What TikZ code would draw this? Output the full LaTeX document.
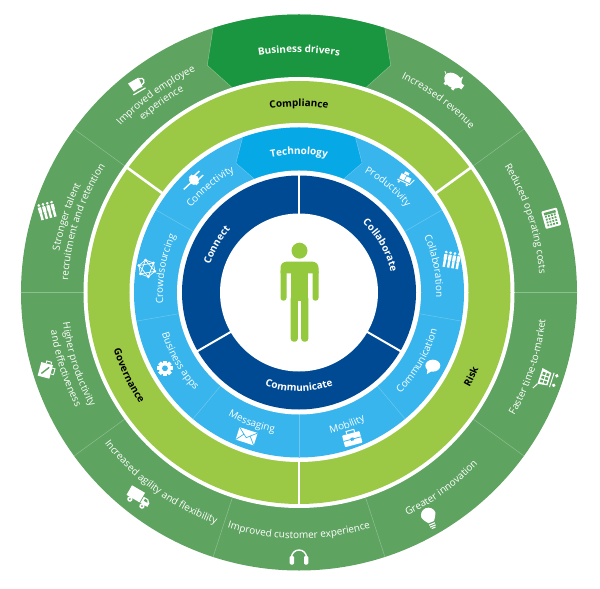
\documentclass[tikz,border=0pt]{standalone}
\usepackage{fontspec}
\setmainfont{Open Sans}
\usetikzlibrary{decorations.text}
\definecolor{outerg}{HTML}{5FA361}
\definecolor{driverg}{HTML}{19963F}
\definecolor{lineg}{HTML}{8CC08F}
\definecolor{limeg}{HTML}{9BC946}
\definecolor{skyb}{HTML}{38B5EC}
\definecolor{techb}{HTML}{07A8E6}
\definecolor{lineb}{HTML}{6CC8F0}
\definecolor{navyb}{HTML}{004A94}
\definecolor{persong}{HTML}{94C83D}
\newcommand{\outerfont}{\fontsize{10}{11}\selectfont}
\newcommand{\innerfont}{\fontsize{10}{11}\selectfont}
\newcommand{\boldfont}{\bfseries\fontsize{10}{11}\selectfont}
% #1 colour, #2 format, #3 radius, #4 centre angle, #5 text: reads clockwise (tops outward)
\newcommand{\cwtext}[5]{\path[decorate,decoration={text along path,text align=center,
  text={|\color{#1}#2|#5}}] (#4+80:#3) arc[start angle=#4+80,end angle=#4-80,radius=#3];}
% reads counter-clockwise (tops towards centre)
\newcommand{\ccwtext}[5]{\path[decorate,decoration={text along path,text align=center,
  text={|\color{#1}#2|#5}}] (#4-80:#3) arc[start angle=#4-80,end angle=#4+80,radius=#3];}
\tikzset{
 thinline/.style={line width=0.5pt},
 pics/mugicon/.style={code={
   \fill[white] (-7,6)--(5,6)--(4,-4) to[bend right=10] (-6,-4)--cycle;
   \draw[white,line width=1.3pt] (5,4.5) .. controls (10,4.5) and (9.5,-2) .. (4.2,-2);
   \draw[white,line width=1.2pt] (-8,-6.5)--(6,-6.5);}},
 pics/peopleicon/.style={code={
   \foreach \xx in {-6.6,-2.2,2.2,6.6}{
     \fill[white] (\xx,7) circle[radius=1.5];
     \fill[white,rounded corners=0.5pt] (\xx-1.6,5)rectangle(\xx+1.6,-1);
     \draw[white,line width=1.1pt] (\xx-.7,-1)--(\xx-.7,-8) (\xx+.7,-1)--(\xx+.7,-8);}}},
 pics/pigicon/.style={code={
   \fill[white] (0,0) ellipse[x radius=9.5,y radius=7];
   \fill[white] (8,-2.5) rectangle (12,2.5);
   \fill[white] (3,4)--(6,9)--(7.5,3)--cycle;
   \fill[white] (-6,-8) rectangle (-3,-3) (3,-8) rectangle (6,-3);
   \draw[white,line width=.8pt] (-9,1)--(-12,3);}},
 pics/calcicon/.style={code={
   \fill[white,rounded corners=1pt] (-8,-9) rectangle (8,9);
   \fill[outerg] (-6,4.5) rectangle (6,7);
   \foreach \xx in {-6,-3,0,3}\foreach \yy in {-7,-4,-1,2}{
     \fill[outerg] (\xx+.4,\yy) rectangle (\xx+2.2,\yy+1.8);}}},
 pics/caseicon/.style={code={
   \fill[white] (-7,-8) rectangle (5,6);
   \draw[outerg,line width=1.4pt] (-4,-5)--(2,3);
   \draw[white,line width=.9pt] (-2,6) -- (-2,8.5) -- (3,8.5) -- (3,6) (5,-3)--(8,-3)--(8,3)--(5,3);}},
 pics/truckicon/.style={code={
   \fill[white] (-12,-4) -- (-12,7) -- (3,7) -- (3,-4) -- cycle;
   \fill[white] (4,-4) -- (4,3) -- (9,3) -- (12,0) -- (12,-4) -- cycle;
   \fill[outerg] (6,-.5) -- (6,1.8) -- (8.6,1.8) -- (10,-.5) -- cycle;
   \fill[white] (-7,-6) circle[radius=2.7] (7,-6) circle[radius=2.7];
   \fill[outerg] (-7,-6) circle[radius=1] (7,-6) circle[radius=1];}},
 pics/phonesicon/.style={code={
   \draw[white,line width=1.4pt] (-7.5,-1) arc[start angle=180,end angle=0,radius=7.5];
   \fill[white,rounded corners=1.2pt] (-9.3,-8) rectangle (-5,0.5);
   \fill[white,rounded corners=1.2pt] (5,-8) rectangle (9.3,0.5);}},
 pics/bulbicon/.style={code={
   \fill[white] (-3,-2) .. controls (-4,1) and (-7.5,2) .. (-7.5,5.5) arc[start angle=180,end angle=0,radius=7.5] .. controls (7.5,2) and (4,1) .. (3,-2) -- cycle;
   \draw[white,line width=1.1pt] (-3.2,-4)--(3.2,-4) (-3,-6.2)--(3,-6.2) (-2,-8.2)--(2,-8.2);}},
 pics/carticon/.style={code={
   \fill[white] (-7,-3) -- (-8.5,7) -- (8,7) -- (6,-3) -- cycle;
   \foreach \xx in {-6,-2,2}\foreach \yy in {-1.5,2.5}{
     \fill[outerg] (\xx,\yy) rectangle (\xx+2.6,\yy+2.8);}
   \draw[white,line width=1pt] (-8,-5.5)--(7,-5.5) (-8.5,7)--(-14,10);
   \fill[white] (-5,-9) circle[radius=1.9] (5,-9) circle[radius=1.9];}},
 pics/plugicon/.style={code={
   \fill[white] (0,0) circle[radius=5];
   \fill[white] (-2,-5.5) rectangle (2,5.5);
   \draw[white,line width=1.4pt] (1,2.8)--(10,2.8) (1,-2.8)--(10,-2.8) (-1,0)--(-14,0);}},
 pics/handcarticon/.style={code={
   \fill[white] (-5.6,-2.4) rectangle (-.4,3.2);
   \fill[white] (.4,-2.4) rectangle (5.6,2.4);
   \fill[white] (-3.2,3.8) rectangle (1.6,6.4);
   \draw[white,line width=.9pt] (-7,-4)--(6.4,-4)--(8.8,2.4);
   \fill[white] (-4.8,-5.6) circle[radius=1.3] (4,-5.6) circle[radius=1.3];}},
 pics/bubbleicon/.style={code={
   \fill[white] (0,1) ellipse[x radius=7.5,y radius=6];
   \fill[white] (-5,0) -- (-6,-7.5) -- (1,-3) -- cycle;}},
 pics/briefcaseicon/.style={code={
   \fill[white,rounded corners=.8pt] (-9,-7) rectangle (9,5);
   \draw[white,line width=1pt] (-4,5) -- (-4,8) -- (4,8) -- (4,5);
   \draw[skyb,line width=.8pt] (-9,-1)--(9,-1);
   \fill[skyb] (-1.5,-2.5) rectangle (1.5,.5);}},
 pics/envelopeicon/.style={code={
   \fill[white] (-9.5,-6.5) rectangle (9.5,6.5);
   \draw[skyb,line width=.7pt] (-9.5,6.5) -- (0,-1.5) -- (9.5,6.5) (-9.5,-6.5) -- (-3,1.5) (9.5,-6.5) -- (3,1.5);}},
 pics/gearicon/.style={code={
   \foreach \aa in {0,45,...,315}{\fill[white,rotate=\aa] (-1.9,5) rectangle (1.9,7.8);}
   \fill[white] (0,0) circle[radius=6];
   \fill[skyb] (0,0) circle[radius=2.9];}},
 pics/networkicon/.style={code={
   \draw[white,line width=.7pt] (90:8.5)--(150:8.5)--(210:8.5)--(270:8.5)--(330:8.5)--(30:8.5)--cycle;
   \draw[white,line width=.7pt] (90:8.5)--(210:8.5)--(330:8.5)--cycle (270:8.5)--(30:8.5)--(150:8.5)--cycle;
   \foreach \aa in {30,90,...,330}{\fill[white] (\aa:8.5) circle[radius=1.5];}}},
}
\begin{document}
\begin{tikzpicture}[x=1bp,y=1bp]
\useasboundingbox (-299,-296.5) rectangle (301,292.5);
% outer ring
\fill[outerg] (0,0) circle[radius=278];
\foreach \aa in {0,36,144,180,216,252,288,324}{\draw[lineg,thinline] (\aa:215)--(\aa:278);}
\fill[driverg] (108:278) arc[start angle=108,end angle=72,radius=278] -- (68:245) -- (72:215) -- (108:215) -- (112:245) -- cycle;
\draw[lineg,thinline] (108:278)--(112:245)--(108:215) (72:278)--(68:245)--(72:215);
% lime ring
\fill[white] (0,0) circle[radius=215.5];
\fill[limeg] (0,0) circle[radius=211.5];
\foreach \aa in {36,144,270}{\draw[white,line width=2.6pt] (\aa:167)--(\aa:213);}
% sky ring
\fill[white] (0,0) circle[radius=169.5];
\fill[skyb] (0,0) circle[radius=165];
\foreach \aa in {30,150,190,230,270,310,350}{\draw[lineb,thinline] (\aa:120)--(\aa:165);}
\fill[techb] (110:165) arc[start angle=110,end angle=70,radius=165] -- (64:144) -- (69:120) -- (111:120) -- (116:144) -- cycle;
\draw[lineb,thinline] (110:165)--(116:144)--(111:120) (70:165)--(64:144)--(69:120);
% navy ring
\fill[white] (0,0) circle[radius=122];
\fill[navyb] (0,0) circle[radius=117];
\foreach \aa in {90,210,330}{\draw[white,line width=2pt] (\aa:75)--(\aa:119);}
\fill[white] (0,0) circle[radius=79];
% person
\begin{scope}[xshift=0.5bp]
\fill[persong] (0,41.8) circle[radius=8];
\fill[persong] (-19,19.2) -- (-19,24.8) arc[start angle=180,end angle=90,radius=6] -- (13,30.8) arc[start angle=90,end angle=0,radius=6] -- (19,19.2) -- cycle;
\fill[persong,rounded corners=2.8pt] (-19,-8.2) rectangle (-13,24);
\fill[persong,rounded corners=2.8pt] (13,-8.2) rectangle (19,24);
\fill[persong] (-8.8,-8.2) rectangle (8.8,24);
\fill[persong,rounded corners=3pt] (-8.8,-49.2) rectangle (-1.7,-3);
\fill[persong,rounded corners=3pt] (1.7,-49.2) rectangle (8.8,-3);
\end{scope}
% outer labels
\cwtext{white}{\boldfont}{240}{90}{Business drivers}
\cwtext{white}{\outerfont}{244}{126}{Improved employee}
\cwtext{white}{\outerfont}{232}{126}{experience}
\cwtext{white}{\outerfont}{243}{162}{Stronger talent}
\cwtext{white}{\outerfont}{231}{162}{recruitment and retention}
\cwtext{white}{\outerfont}{237}{54}{Increased revenue}
\cwtext{white}{\outerfont}{241}{18}{Reduced operating costs}
\ccwtext{white}{\outerfont}{238}{198}{Higher productivity}
\ccwtext{white}{\outerfont}{251}{198}{and effectiveness}
\ccwtext{white}{\outerfont}{246}{234}{Increased agility and flexibility}
\ccwtext{white}{\outerfont}{246}{270}{Improved customer experience}
\ccwtext{white}{\outerfont}{248}{306}{Greater innovation}
\ccwtext{white}{\outerfont}{248}{342}{Faster time-to-market}
% lime labels
\cwtext{black}{\boldfont}{186}{90}{Compliance}
\ccwtext{black}{\boldfont}{194}{206}{Governance}
\ccwtext{black}{\boldfont}{195}{334}{Risk}
% sky labels
\cwtext{white}{\boldfont}{138}{90}{Technology}
\cwtext{white}{\innerfont}{137}{130}{Connectivity}
\cwtext{white}{\innerfont}{137}{50}{Productivity}
\cwtext{white}{\innerfont}{137}{11}{Collaboration}
\cwtext{white}{\innerfont}{136}{170}{Crowdsourcing}
\ccwtext{white}{\innerfont}{143}{330}{Communication}
\ccwtext{white}{\innerfont}{144}{290}{Mobility}
\ccwtext{white}{\innerfont}{142}{250}{Messaging}
\ccwtext{white}{\innerfont}{143}{210}{Business apps}
% navy labels
\cwtext{white}{\boldfont}{93}{150}{Connect}
\cwtext{white}{\boldfont}{94}{30}{Collaborate}
\ccwtext{white}{\boldfont}{99}{270}{Communicate}
% icons
\pic[rotate=30] at (128:263) {mugicon};
\pic[rotate=15] at (162:265) {peopleicon};
\pic[rotate=-35] at (54:262) {pigicon};
\pic[rotate=15] at (16.4:263) {calcicon};
\pic[rotate=-15] at (197:264) {caseicon};
\pic[rotate=-30] at (232:260) {truckicon};
\pic at (270:264) {phonesicon};
\pic[rotate=22] at (300:263) {bulbicon};
\pic[rotate=72] at (341:262) {carticon};
\pic[rotate=43] at (133:154) {plugicon};
\pic[rotate=-25] at (47:156) {handcarticon};
\pic[rotate=-10] at (12:156) {peopleicon};
\pic at (331:153) {bubbleicon};
\pic[rotate=15] at (290:155) {briefcaseicon};
\pic[rotate=-18] at (250:153) {envelopeicon};
\pic at (209.5:154) {gearicon};
\pic[rotate=10] at (171:154) {networkicon};
\end{tikzpicture}
\end{document}
